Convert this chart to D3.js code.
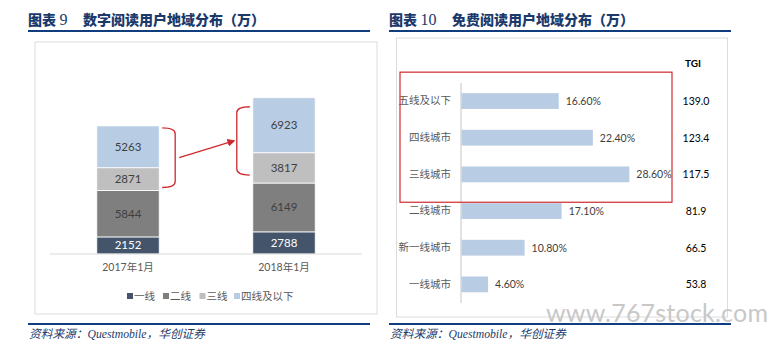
<html>
<head>
  <meta charset="utf-8">
  <script src="https://d3js.org/d3.v7.min.js"></script>
  <style>
    body { margin: 0; background: #fff; }
    text { font-family: Lato, "Noto Sans CJK SC", sans-serif; }
    .title { font-family: "Liberation Serif", "Noto Sans CJK SC", serif; font-weight: 900; font-size: 14px; fill: #1b3a6b; }
    .src { font-family: "Liberation Serif", "Noto Sans CJK SC", serif; font-style: italic; font-size: 11.7px; fill: #1b3a6b; }
  </style>
</head>
<body>
<script>
// left chart data
var periods = ["2017年1月", "2018年1月"];
var tiers = ["一线", "二线", "三线", "四线及以下"];
var tier1 = [2152, 2788];
var tier2 = [5844, 6149];
var tier3 = [2871, 3817];
var tier4 = [5263, 6923];

// right chart data
var cities = ["五线及以下", "四线城市", "三线城市", "二线城市", "新一线城市", "一线城市"];
var shares = [16.6, 22.4, 28.6, 17.1, 10.8, 4.6];
var tgi = ["139.0", "123.4", "117.5", "81.9", "66.5", "53.8"];

var width = 770, height = 354;
var navy = "#0f3d7e", red = "#d0282e";

var svg = d3.select("body").append("svg")
  .attr("width", width)
  .attr("height", height);

// titles, rules, sources
var t1 = svg.append("text").attr("class", "title").attr("x", 28).attr("y", 25);
t1.append("tspan").text("图表 ");
t1.append("tspan").attr("font-size", 16).attr("font-weight", "normal").text("9");
t1.append("tspan").attr("x", 83).text("数字阅读用户地域分布（万）");
var t2 = svg.append("text").attr("class", "title").attr("x", 389).attr("y", 25);
t2.append("tspan").text("图表 ");
t2.append("tspan").attr("font-size", 16).attr("font-weight", "normal").text("10");
t2.append("tspan").attr("x", 452).text("免费阅读用户地域分布（万）");

[[28, 370], [389, 731]].forEach(function(r) {
  svg.append("line").attr("x1", r[0]).attr("x2", r[1]).attr("y1", 31).attr("y2", 31)
    .attr("stroke", navy).attr("stroke-width", 2);
  svg.append("line").attr("x1", r[0]).attr("x2", r[1]).attr("y1", 324).attr("y2", 324)
    .attr("stroke", navy).attr("stroke-width", 2);
  svg.append("text").attr("class", "src").attr("x", r[0] + 1).attr("y", 337.5)
    .text("资料来源：Questmobile，华创证券");
});

// panel frames
svg.append("rect").attr("x", 35).attr("y", 42).attr("width", 342).attr("height", 272)
  .attr("fill", "none").attr("stroke", "#dcdcdc").attr("stroke-width", 1);
svg.append("rect").attr("x", 396.5).attr("y", 38).attr("width", 331).attr("height", 279)
  .attr("fill", "none").attr("stroke", "#dcdcdc").attr("stroke-width", 1);

// ---------- left: stacked columns ----------
var colors = ["#44546a", "#7f7f7f", "#bfbfbf", "#b8cce4"];
var rows = periods.map(function(p, i) {
  return { period: p, "一线": tier1[i], "二线": tier2[i], "三线": tier3[i], "四线及以下": tier4[i] };
});
var stacked = d3.stack().keys(tiers)(rows);

var x = d3.scaleBand().domain(periods).range([50, 362]).paddingInner(0.6).paddingOuter(0.3);
var y = d3.scaleLinear().domain([0, 25000]).range([254, 55.5]);

var left = svg.append("g");
var layers = left.selectAll("g.layer").data(stacked).enter().append("g")
  .attr("fill", function(d, i) { return colors[i]; });

layers.selectAll("rect").data(function(d) { return d; }).enter().append("rect")
  .attr("x", function(d) { return x(d.data.period); })
  .attr("y", function(d) { return y(d[1]); })
  .attr("width", x.bandwidth())
  .attr("height", function(d) { return y(d[0]) - y(d[1]); })
  .attr("stroke", "#fff").attr("stroke-width", 0.8);

layers.each(function(layer, li) {
  d3.select(this).selectAll("text").data(layer).enter().append("text")
    .attr("x", function(d) { return x(d.data.period) + x.bandwidth() / 2; })
    .attr("y", function(d) { return (y(d[0]) + y(d[1])) / 2 + 4; })
    .attr("text-anchor", "middle")
    .attr("font-size", 11.5)
    .attr("fill", li === 0 ? "#fff" : "#404040")
    .text(function(d) { return d[1] - d[0]; });
});

left.append("g")
  .attr("transform", "translate(0,254)")
  .call(d3.axisBottom(x).tickSize(0).tickPadding(10))
  .call(function(g) {
    g.select(".domain").attr("stroke", "#d9d9d9").attr("d", "M0,0H312").attr("transform", "translate(50,0)");
    g.selectAll("text").attr("font-size", 10.5).attr("fill", "#595959")
      .attr("font-family", "Lato, 'Noto Sans CJK SC', sans-serif");
  });

// legend
var legendX = [127, 163, 199.5, 234];
var legend = left.selectAll("g.leg").data(tiers).enter().append("g")
  .attr("transform", function(d, i) { return "translate(" + legendX[i] + ",296)"; });
legend.append("rect").attr("x", 0).attr("y", -3).attr("width", 6).attr("height", 6)
  .attr("fill", function(d, i) { return colors[i]; });
legend.append("text").attr("x", 7).attr("y", 3.8).attr("font-size", 10.5).attr("fill", "#595959")
  .text(function(d) { return d; });

// brackets + arrow
var defs = svg.append("defs");
defs.append("marker").attr("id", "ah").attr("viewBox", "0 0 10 10")
  .attr("refX", 8).attr("refY", 5).attr("markerWidth", 6).attr("markerHeight", 6)
  .attr("orient", "auto")
  .append("path").attr("d", "M0,0L10,5L0,10z").attr("fill", red);

var b1Top = y(stacked[3][0][1]) + 2, b1Bot = y(stacked[2][0][0]) - 3;
var b1x0 = x(periods[0]) + x.bandwidth() + 3, b1x1 = b1x0 + 13;
left.append("path")
  .attr("d", "M" + b1x0 + "," + b1Top + "Q" + b1x1 + "," + b1Top + " " + b1x1 + "," + (b1Top + 6) +
    "L" + b1x1 + "," + (b1Bot - 6) + "Q" + b1x1 + "," + b1Bot + " " + b1x0 + "," + b1Bot)
  .attr("fill", "none").attr("stroke", red).attr("stroke-width", 1.3);

var b2Top = y(stacked[3][1][1]) + 9, b2Bot = y(stacked[2][1][0]) - 8;
var b2x0 = x(periods[1]) - 3, b2x1 = b2x0 - 13;
left.append("path")
  .attr("d", "M" + b2x0 + "," + b2Top + "Q" + b2x1 + "," + b2Top + " " + b2x1 + "," + (b2Top + 6) +
    "L" + b2x1 + "," + (b2Bot - 6) + "Q" + b2x1 + "," + b2Bot + " " + b2x0 + "," + b2Bot)
  .attr("fill", "none").attr("stroke", red).attr("stroke-width", 1.3);

left.append("line")
  .attr("x1", b1x1 + 4).attr("y1", (b1Top + b1Bot) / 2)
  .attr("x2", b2x1 - 3).attr("y2", (b2Top + b2Bot) / 2)
  .attr("stroke", red).attr("stroke-width", 1.3).attr("marker-end", "url(#ah)");

// ---------- right: horizontal bars ----------
var yb = d3.scaleBand().domain(cities).range([82.7, 302.7]).paddingInner(0.57).paddingOuter(0.285);
var xb = d3.scaleLinear().domain([0, 30]).range([461, 461 + 176.6]);

var right = svg.append("g");
right.selectAll("rect.bar").data(cities).enter().append("rect")
  .attr("x", xb(0))
  .attr("y", function(d) { return yb(d); })
  .attr("width", function(d, i) { return xb(shares[i]) - xb(0); })
  .attr("height", yb.bandwidth())
  .attr("fill", "#b8cce4");

right.selectAll("text.val").data(cities).enter().append("text")
  .attr("x", function(d, i) { return xb(shares[i]) + 7; })
  .attr("y", function(d) { return yb(d) + yb.bandwidth() / 2 + 4; })
  .attr("font-size", 10.5).attr("fill", "#404040")
  .text(function(d, i) { return shares[i].toFixed(2) + "%"; });

right.append("g")
  .attr("transform", "translate(461,0)")
  .call(d3.axisLeft(yb).tickSize(0).tickPadding(10))
  .call(function(g) {
    g.select(".domain").attr("stroke", "#d9d9d9").attr("stroke-width", 1.5).attr("d", "M0,83V303");
    g.selectAll("text").attr("font-size", 10.5).attr("fill", "#595959")
      .attr("font-family", "'Noto Sans CJK SC', sans-serif");
  });

right.append("text").attr("x", 693).attr("y", 67).attr("text-anchor", "middle")
  .attr("font-size", 10).attr("font-weight", "bold").attr("fill", "#000").text("TGI");
right.selectAll("text.tgi").data(cities).enter().append("text")
  .attr("x", 696)
  .attr("y", function(d) { return yb(d) + yb.bandwidth() / 2 + 4; })
  .attr("text-anchor", "middle").attr("font-size", 10.5).attr("fill", "#000")
  .text(function(d, i) { return tgi[i]; });

// highlight box around lower-tier cities
right.append("rect")
  .attr("x", 400).attr("y", yb(cities[0]) - 21)
  .attr("width", 272).attr("height", yb(cities[2]) + yb.bandwidth() + 20 - (yb(cities[0]) - 21))
  .attr("fill", "none").attr("stroke", red).attr("stroke-width", 1.2);

// watermark
svg.append("text").attr("x", 546).attr("y", 322)
  .attr("font-family", "'DejaVu Sans', sans-serif").attr("font-size", 25)
  .attr("textLength", 222).attr("fill", "#c8c8c8").text("www.767stock.com");
</script>
</body>
</html>
